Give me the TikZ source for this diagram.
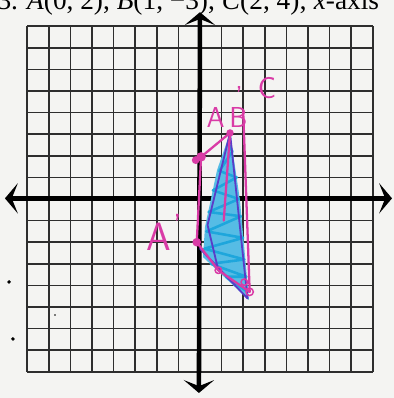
\documentclass[tikz,border=0pt]{standalone}
\usepackage{fontspec}
\setmainfont{Liberation Serif}
\usetikzlibrary{arrows.meta}
\definecolor{paper}{HTML}{F4F4F2}
\definecolor{gridgray}{HTML}{2E2E2E}
\definecolor{penpink}{HTML}{D93BA6}
\definecolor{pencyan}{HTML}{1EA6DC}
\definecolor{penviolet}{HTML}{5A3CC8}

\begin{document}
\begin{tikzpicture}[
    gridline/.style={gridgray, line width=2.2pt},
    axisline/.style={black, line width=6pt,
      {Stealth[length=17pt, width=40pt, inset=8pt]}-{Stealth[length=17pt, width=40pt, inset=8pt]}},
    pinkpen/.style={penpink, line width=3pt, line cap=round, line join=round},
    violetpen/.style={penviolet, line width=2.4pt, line cap=round, line join=round},
    cyanpen/.style={pencyan, line width=3.4pt, line cap=round, line join=round},
    hand/.style={text=penpink, font=\sffamily, inner sep=0pt}]
    % paper and frame
    \fill[paper] (-9.259,-9.213) rectangle (8.981,9.213);
    \useasboundingbox (-9.259,-9.213) rectangle (8.981,9.213);
    \node[anchor=base west, inner sep=0pt, font=\fontsize{36}{40}\selectfont] (title) at (-9.38,8.75)
      {3. \textit{A}(0, 2), \textit{B}(1, −3), \textit{C}(2, 4); \textit{x}-axis};
    \draw[gridline] (-8,-8) grid (8,8);
    % axes
    \coordinate (xl) at (-9.03,0.03);
    \coordinate (xr) at (8.89,0.03);
    \coordinate (yb) at (-0.05,-8.98);
    \coordinate (yt) at (0,8.65);
    \draw[axisline] (xl) -- (xr);
    \draw[axisline] (yb) -- (yt);
    % specks of the scan
    \fill (-8.84,-3.84) circle (0.09);
    \fill (-8.66,-6.48) circle (0.09);
    \fill (-6.71,-5.37) circle (0.04);
    % the student's points
    \coordinate (A) at (0.05,1.95);
    \coordinate (Atop) at (1.39,3.06);
    \coordinate (Ctop) at (2.0,4.05);
    \coordinate (Cbot) at (2.3,-4.3);
    \coordinate (Ap) at (-0.15,-2.0);
    \coordinate (B1) at (0.85,-3.3);
    \coordinate (B2) at (2.05,-3.85);
    \coordinate (Bv) at (2.2,-4.6);
    % blue shading
    \fill[pencyan!75] (1.39,3.06) -- (1.85,-0.05) -- (2.27,-4.68) -- (0.93,-3.43)
      -- (0.14,-2.69) -- (0.23,-1.30) -- (0.79,1.34) -- cycle;
    \draw[cyanpen] (1.3,2.6) -- (1.5,2.2) -- (0.9,1.3) -- (1.7,1.0) -- (0.6,0.4)
      -- (1.8,0.0) -- (0.4,-0.6) -- (1.9,-0.8) -- (0.3,-1.5) -- (2.0,-1.8)
      -- (0.2,-2.3) -- (2.05,-2.8) -- (0.5,-3.0) -- (2.15,-3.6) -- (1.2,-3.6) -- (2.2,-4.3);
    \draw[violetpen] (Atop) -- (Bv);
    \draw[violetpen] (Atop) -- (0.35,-1.2) -- (B1);
    \draw[violetpen] (0.0,-2.3) -- (Bv);
    % pink lines and dots
    \draw[pinkpen] (A) -- (Atop);
    \draw[pinkpen] (Ctop) -- (Cbot);
    \draw[pinkpen] (A) -- (Ap);
    \draw[pinkpen] (Ap) -- (B1) -- (Cbot);
    \draw[pinkpen] (Atop) -- (1.1,-1.0);
    \fill[penpink] (A) circle (0.22);
    \fill[penpink] (-0.2,1.8) circle (0.18);
    \fill[penpink] (Atop) circle (0.17);
    \fill[penpink] (Ap) circle (0.2);
    \draw[pinkpen, line width=2pt] (B1) circle (0.15);
    \draw[pinkpen, line width=2pt] (B2) circle (0.15);
    \draw[pinkpen, line width=2pt] (Cbot) circle (0.17);
    % pink labels
    \node[hand, font=\sffamily\fontsize{38}{38}\selectfont, anchor=base west] (labAB) at (0.3,3.3)
      {A\,B\kern-0.42em\raisebox{0.75em}{'}\kern0.2em};
    \node[hand, font=\sffamily\fontsize{40}{40}\selectfont] (labC) at (3.1,5.14) {C};
    \node[hand, font=\sffamily\fontsize{52}{52}\selectfont, anchor=base west] (labAp) at (-2.5,-2.4)
      {A\kern0.08em\raisebox{0.35em}{\fontsize{44}{44}\selectfont '}};
\end{tikzpicture}
\end{document}
